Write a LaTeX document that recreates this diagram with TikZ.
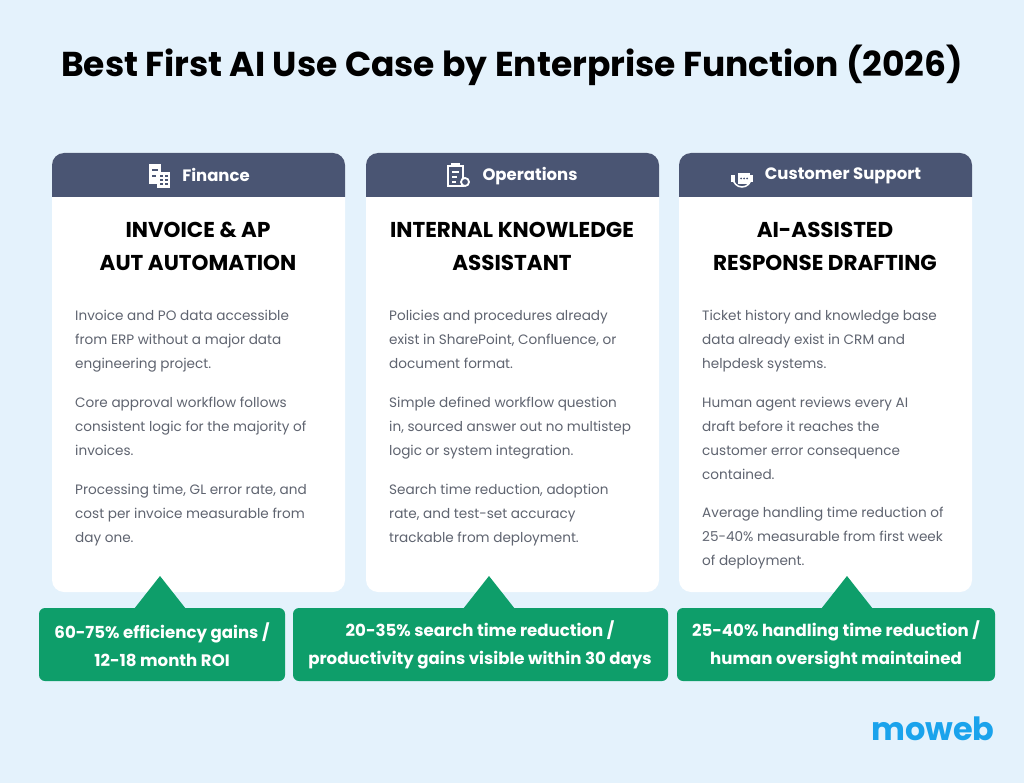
\documentclass[tikz,border=0pt]{standalone}
\usepackage{fontspec}
\setmainfont{Poppins}
\usetikzlibrary{positioning}
\definecolor{bgblue}{HTML}{E4F2FC}
\definecolor{headgray}{HTML}{4A5573}
\definecolor{bodygray}{HTML}{5F6470}
\definecolor{okgreen}{HTML}{0E9E6A}
\definecolor{logoblue}{HTML}{1AA3EC}
\tikzset{
  headtext/.style={text=white,font=\fontsize{16.5}{20}\selectfont\bfseries},
  cardtitle/.style={align=center,font=\fontsize{21.5}{33}\selectfont\bfseries},
  bodytext/.style={text=bodygray,align=left,anchor=north west,font=\fontsize{13.6}{24}\selectfont,inner sep=0pt},
  resulttext/.style={text=white,align=center,font=\fontsize{16.6}{28}\selectfont\bfseries}
}
\begin{document}
\begin{tikzpicture}[x=1pt,y=-1pt]
  \fill[bgblue] (0,0) rectangle (1024,783);
  \useasboundingbox (0,0) rectangle (1024,783);
  \node[font=\fontsize{34.5}{40}\selectfont\bfseries] (title) at (512,65) {Best First AI Use Case by Enterprise Function (2026)};

  % cards
  \foreach \x in {52,366,679}{
    \fill[white] (\x,153) [rounded corners=12pt] rectangle (\x+293,592);
    \fill[headgray] (\x,197) -- (\x,165) arc[start angle=180,end angle=270,radius=12] -- (\x+281,153) arc[start angle=270,end angle=360,radius=12] -- (\x+293,197) -- cycle;
  }

  % header labels
  \node[headtext] (finHead) at (216,175) {Finance};
  \node[headtext] (opsHead) at (530,176) {Operations};
  \node[headtext] (supHead) at (843,176) {Customer Support};

  % icons
  \begin{scope}[white]
    \fill (149,164) rectangle (161,184);
    \fill (157,172) rectangle (170,188);
    \fill[headgray] (152,169) rectangle (158,171);
    \fill[headgray] (152,175) rectangle (156,177);
    \foreach \i in {0,1}\foreach \j in {0,1,2}{\fill[headgray] (159.5+\i*5,175+\j*4) rectangle (162.5+\i*5,177+\j*4);}
    \draw[line width=1.5pt] (448,166) rectangle (463,186);
    \draw[line width=1.3pt] (452,172) -- (459,172) (452,177) -- (457,177) (452,182) -- (456,182);
    \fill (451,163) rectangle (460,167);
    \draw[line width=1.8pt,fill=headgray] (465,182) circle (4);
    \draw[line width=1.5pt] (733,178) arc[start angle=180,end angle=0,radius=9];
    \fill (738,173) rectangle (750,184);
    \fill (731,175) rectangle (735,182);
    \fill (749,175) rectangle (753,182);
    \foreach \i in {0,1,2}{\fill[headgray] (741+\i*3,178.5) circle (1);}
  \end{scope}

  % card titles
  \node[cardtitle] (finTitle) at (198,246) {INVOICE \& AP\\AUT AUTOMATION};
  \node[cardtitle] (opsTitle) at (512,246) {INTERNAL KNOWLEDGE\\ASSISTANT};
  \node[cardtitle] (supTitle) at (825,246) {AI-ASSISTED\\RESPONSE DRAFTING};

  % body paragraphs
  \node[bodytext] (fin1) at (75,310) {Invoice and PO data accessible\\from ERP without a major data\\engineering project.};
  \node[bodytext] (fin2) at (75,397) {Core approval workflow follows\\consistent logic for the majority of\\invoices.};
  \node[bodytext] (fin3) at (75,484) {Processing time, GL error rate, and\\cost per invoice measurable from\\day one.};
  \node[bodytext] (ops1) at (389,310) {Policies and procedures already\\exist in SharePoint, Confluence, or\\document format.};
  \node[bodytext] (ops2) at (389,397) {Simple defined workflow question\\in, sourced answer out no multistep\\logic or system integration.};
  \node[bodytext] (ops3) at (389,484) {Search time reduction, adoption\\rate, and test-set accuracy\\trackable from deployment.};
  \node[bodytext] (sup1) at (702,310) {Ticket history and knowledge base\\data already exist in CRM and\\helpdesk systems.};
  \node[bodytext] (sup2) at (702,397) {Human agent reviews every AI\\draft before it reaches the\\customer error consequence\\contained.};
  \node[bodytext] (sup3) at (702,507) {Average handling time reduction of\\25-40\% measurable from first week\\of deployment.};

  % result boxes with pointers
  \foreach \l/\r/\apex in {39/285/160,293/668/489,677/995/847}{
    \fill[okgreen,rounded corners=6pt] (\l,608) rectangle (\r,681);
    \fill[okgreen] (\apex-26,609) -- (\apex,576) -- (\apex+26,609) -- cycle;
  }
  \node[resulttext] (finResult) at (162,645) {60-75\% efficiency gains /\\12-18 month ROI};
  \node[resulttext] (opsResult) at (480,645) {20-35\% search time reduction /\\productivity gains visible within 30 days};
  \node[resulttext] (supResult) at (836,645) {25-40\% handling time reduction /\\human oversight maintained};

  % logo
  \node[text=logoblue,font=\fontsize{32}{32}\selectfont\bfseries] (logo) at (933,729) {moweb};
\end{tikzpicture}
\end{document}
